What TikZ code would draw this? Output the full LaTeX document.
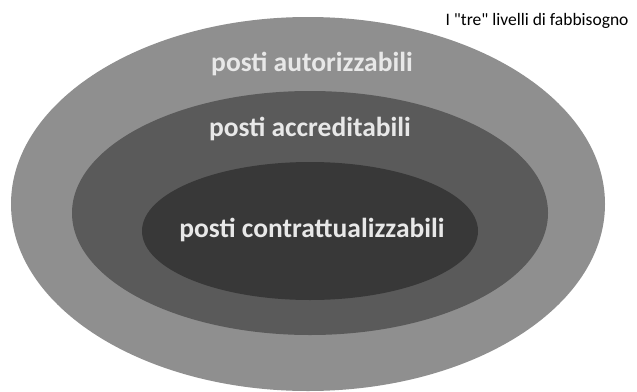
\documentclass[tikz,border=0pt]{standalone}
\usepackage{fontspec}
\setmainfont{Carlito}
\newfontfamily\ttlfont{Carlito}
\definecolor{outerc}{HTML}{8F8F8F}
\definecolor{midc}{HTML}{5A5A5A}
\definecolor{innerc}{HTML}{383838}
\definecolor{labc}{HTML}{E8E8E8}
\begin{document}
\begin{tikzpicture}[x=1pt,y=-1pt,
  lab/.style={text=labc,font=\bfseries\fontsize{27.5}{30}\selectfont,inner sep=0pt},
  ttl/.style={text=black,font=\ttlfont\fontsize{17.5}{20}\selectfont,inner sep=0pt}]
\useasboundingbox (0,0) rectangle (637,391);
\fill[outerc] (308,204) ellipse [x radius=297,y radius=187];
\fill[midc] (310,213) ellipse [x radius=238,y radius=122];
\fill[innerc] (310,231) ellipse [x radius=168,y radius=69];
\node[lab] (a) at (312,64) {posti autorizzabili};
\node[lab] (b) at (310,129) {posti accreditabili};
\node[lab] (c) at (312,230) {posti contrattualizzabili};
\node[ttl] (t) at (537,21) {I "tre" livelli di fabbisogno};
\end{tikzpicture}
\end{document}
